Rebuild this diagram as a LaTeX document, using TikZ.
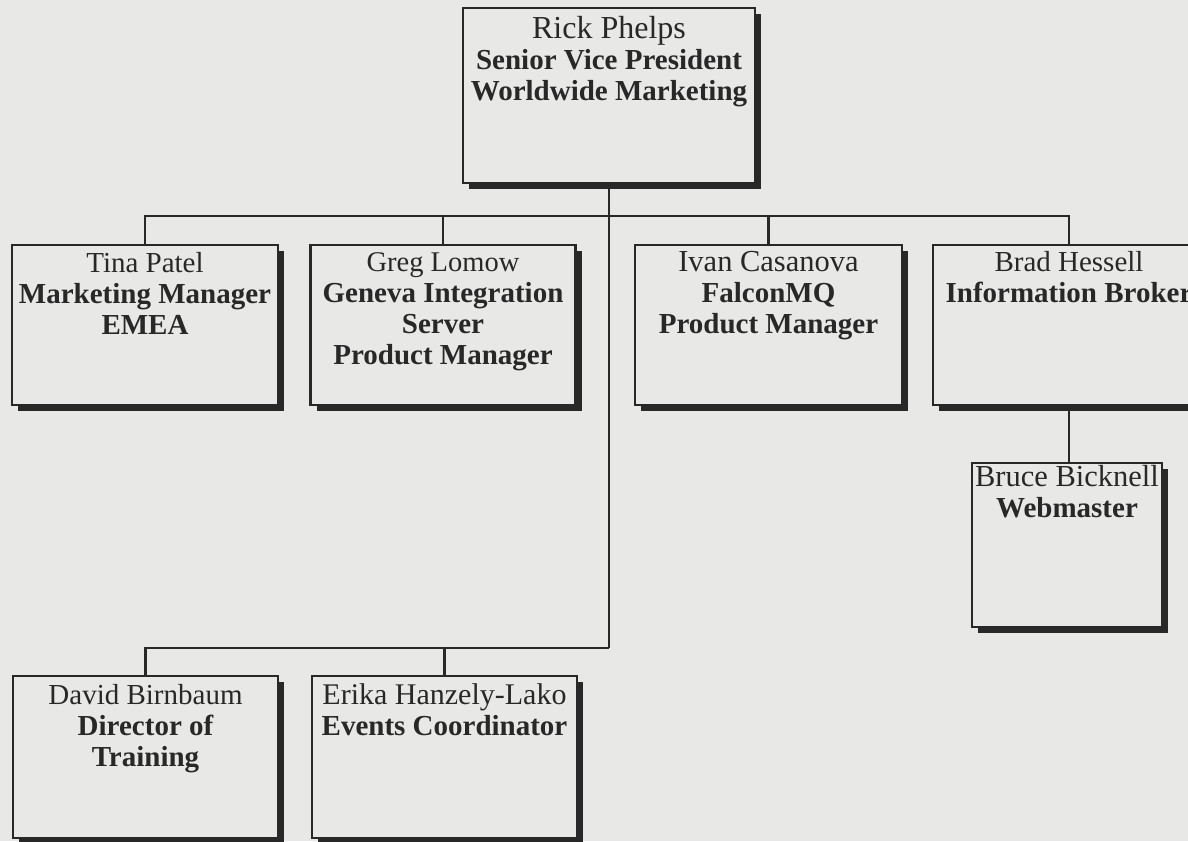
\documentclass[tikz,border=0pt]{standalone}
\usepackage{fontspec}
\setmainfont{Liberation Serif}
\usetikzlibrary{shadows}
\definecolor{paper}{RGB}{232,232,230}
\definecolor{ink}{RGB}{40,40,40}
\tikzset{
  orgbox/.style={rectangle, draw=ink, line width=2.6pt, fill=paper, inner sep=0pt,
    drop shadow={shadow xshift=6pt, shadow yshift=-6pt, fill=ink, opacity=1}},
  boxtext/.style={anchor=north, align=center, inner sep=0pt, text=ink,
    font=\fontsize{29}{31}\selectfont\bfseries},
  link/.style={draw=ink, line width=2.2pt},
}
\newcommand{\pname}[2]{{\fontsize{#1}{#1}\selectfont\mdseries #2}}
\begin{document}
\begin{tikzpicture}[x=1pt,y=-1pt]
\fill[paper] (0,0) rectangle (1188,841);
\useasboundingbox (0,0) rectangle (1188,841);
\coordinate (upbus) at (0,216);
\coordinate (lowbus) at (0,648);
% boxes
\node[orgbox, minimum width=292pt, minimum height=175pt] (rick) at (609,95.5) {};
\node[orgbox, minimum width=266pt, minimum height=160pt] (tina) at (145,325) {};
\node[orgbox, minimum width=265pt, minimum height=160pt] (greg) at (443,325) {};
\node[orgbox, minimum width=267pt, minimum height=160pt] (ivan) at (768.5,325) {};
\node[orgbox, minimum width=272pt, minimum height=160pt] (brad) at (1069,325) {};
\node[orgbox, minimum width=190pt, minimum height=164pt] (bruce) at (1067,545) {};
\node[orgbox, minimum width=265pt, minimum height=162pt] (david) at (145.5,757) {};
\node[orgbox, minimum width=265pt, minimum height=162pt] (erika) at (444.5,757) {};
% connectors
\draw[link] (rick.south) -- (rick.south |- lowbus);
\draw[link] (tina.north) -- (tina.north |- upbus) -- (brad.north |- upbus) -- (brad.north);
\draw[link] (greg.north) -- (greg.north |- upbus);
\draw[link] (ivan.north) -- (ivan.north |- upbus);
\draw[link] (brad.south) -- (brad.south |- bruce.north);
\draw[link] (david.north) -- (david.north |- lowbus) -- (rick.south |- lowbus);
\draw[link] (erika.north) -- (erika.north |- lowbus);
% texts
\node[boxtext] (rickt) at ([yshift=-9pt]rick.north) {\pname{32}{Rick Phelps}\\Senior Vice President\\Worldwide Marketing};
\node[boxtext] (tinat) at ([yshift=-8pt]tina.north) {\pname{29}{Tina Patel}\\Marketing Manager\\EMEA};
\node[boxtext] (gregt) at ([yshift=-8.5pt]greg.north) {\pname{28.5}{Greg Lomow}\\Geneva Integration\\Server\\Product Manager};
\node[boxtext] (ivant) at ([yshift=-7pt]ivan.north) {\pname{30.5}{Ivan Casanova}\\FalconMQ\\Product Manager};
\node[boxtext] (bradt) at ([yshift=-7pt]brad.north) {\pname{29}{Brad Hessell}\\Information Broker};
\node[boxtext] (brucet) at ([yshift=-3pt]bruce.north) {\pname{30.5}{Bruce Bicknell}\\Webmaster};
\node[boxtext] (davidt) at ([yshift=-9.5pt]david.north) {\pname{29}{David Birnbaum}\\Director of\\Training};
\node[boxtext] (erikat) at ([yshift=-9pt]erika.north) {\pname{30}{Erika Hanzely-Lako}\\Events Coordinator};
\end{tikzpicture}
\end{document}
